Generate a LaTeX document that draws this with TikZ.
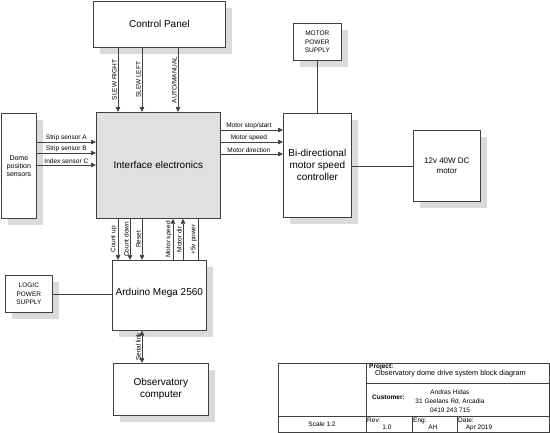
\documentclass[tikz,border=0pt]{standalone}
\usepackage{fontspec}
\setmainfont{Liberation Sans}
\usetikzlibrary{arrows.meta}
\definecolor{shadowgray}{HTML}{DADADA}
\definecolor{iegray}{HTML}{E0E0E0}
\newcommand{\boxshade}[5]{% name x y w h
  \fill[shadowgray] (#2+7,#3+7) rectangle (#2+7+#4,#3+7+#5);
}
\begin{document}
\begin{tikzpicture}[x=1pt,y=-1pt,
 line/.style={draw=black!75, line width=0.7pt},
 box/.style={line, fill=white, anchor=north west, inner sep=0pt, align=center},
 arr/.style={line, -{Triangle[length=5pt,width=4.5pt]}},
 darr/.style={line, {Triangle[length=5pt,width=4.5pt]}-{Triangle[length=5pt,width=4.5pt]}},
 hlab/.style={midway, above, font=\fontsize{6.5}{7}\selectfont, inner sep=1pt},
 vlab/.style={midway, rotate=90, anchor=south, font=\fontsize{6.5}{7}\selectfont, inner sep=1pt},
 big/.style={font=\fontsize{10}{12}\selectfont},
 small/.style={font=\fontsize{6.5}{8.4}\selectfont},
 tb/.style={font=\fontsize{6.5}{7.5}\selectfont, inner sep=0pt},
 tbb/.style={font=\fontsize{6.5}{7.5}\selectfont\bfseries, inner sep=0pt},
]
\useasboundingbox (0,0) rectangle (550,433);

% shadows
\boxshade{cp}{93}{1}{132}{46}
\boxshade{dome}{1}{113}{35}{105}
\boxshade{bd}{283}{113}{68}{104}
\boxshade{mot}{413}{130}{67}{71}
\boxshade{mps}{293}{23}{48}{37}
\boxshade{ard}{112}{260}{94}{70}
\boxshade{lps}{5}{275}{47}{37}
\boxshade{oc}{113}{363}{95}{52}

% boxes
\node[box, big, minimum width=132pt, minimum height=46pt] (cp) at (93,1) {Control Panel};
\node[box, font=\fontsize{7}{7.8}\selectfont, minimum width=35pt, minimum height=105pt] (dome) at (1,113) {Dome\\position\\sensors};
\node[box, big, fill=iegray, minimum width=124pt, minimum height=106pt] (ie) at (96,112) {Interface electronics};
\node[box, big, minimum width=68pt, minimum height=104pt] (bd) at (283,113) {Bi-directional\\motor speed\\controller};
\node[box, font=\fontsize{8}{9.5}\selectfont, minimum width=67pt, minimum height=71pt] (mot) at (413,130) {12v 40W DC\\motor};
\node[box, small, minimum width=48pt, minimum height=37pt] (mps) at (293,23) {MOTOR\\POWER\\SUPPLY};
\node[box, big, minimum width=94pt, minimum height=70pt] (ard) at (112,260) {\raisebox{7pt}{Arduino Mega 2560}};
\node[box, small, minimum width=47pt, minimum height=37pt] (lps) at (5,275) {LOGIC\\POWER\\SUPPLY};
\node[box, big, minimum width=95pt, minimum height=52pt] (oc) at (113,363) {Observatory\\computer};

% reference coordinates
\coordinate (xa) at (118,0);
\coordinate (xb) at (142,0);
\coordinate (xc) at (178,0);
\coordinate (xd) at (130,0);
\coordinate (xe) at (173,0);
\coordinate (xf) at (183,0);
\coordinate (xg) at (198,0);
\coordinate (ya) at (0,142);
\coordinate (yb) at (0,153);
\coordinate (yc) at (0,165);
\coordinate (yd) at (0,130);
\coordinate (ye) at (0,142);
\coordinate (yf) at (0,154);
\coordinate (yg) at (0,166);
\coordinate (yh) at (0,294);

% control panel -> interface
\draw[arr] (cp.south -| xa) -- node[vlab]{SLEW RIGHT} (ie.north -| xa);
\draw[arr] (cp.south -| xb) -- node[vlab]{SLEW LEFT} (ie.north -| xb);
\draw[arr] (cp.south -| xc) -- node[vlab]{AUTO/MANUAL} (ie.north -| xc);

% sensors -> interface
\draw[arr] (dome.east |- ya) -- node[hlab]{Strip sensor A} (ie.west |- ya);
\draw[arr] (dome.east |- yb) -- node[hlab]{Strip sensor B} (ie.west |- yb);
\draw[arr] (dome.east |- yc) -- node[hlab]{Index sensor C} (ie.west |- yc);

% interface -> controller
\draw[arr] (ie.east |- yd) -- node[hlab, xshift=-3pt]{Motor stop/start} (bd.west |- yd);
\draw[arr] (ie.east |- ye) -- node[hlab, xshift=-3pt]{Motor speed} (bd.west |- ye);
\draw[arr] (ie.east |- yf) -- node[hlab, xshift=-3pt]{Motor direction} (bd.west |- yf);

% controller -- motor, power
\draw[line] (bd.east |- yg) -- (mot.west |- yg);
\draw[line] (mps.south) -- (bd.north);

% interface <-> arduino
\draw[arr] (ie.south -| xa) -- node[vlab]{Count up} (ard.north -| xa);
\draw[arr] (ie.south -| xd) -- node[vlab]{Count down} (ard.north -| xd);
\draw[arr] (ie.south -| xb) -- node[vlab]{Reset} (ard.north -| xb);
\draw[arr] (ard.north -| xe) -- node[vlab]{Motor speed} (ie.south -| xe);
\draw[arr] (ard.north -| xf) -- node[vlab]{Motor dir} (ie.south -| xf);
\draw[line] (ie.south -| xg) -- node[vlab]{+5v power} (ard.north -| xg);

% logic power, serial
\draw[line] (lps.east |- yh) -- (ard.west |- yh);
\draw[darr] (ard.south -| xb) -- node[vlab]{Serial link} (oc.north -| xb);

% title block
\draw[line] (278,363) rectangle (549,432);
\draw[line] (366,363) -- (366,432);
\draw[line] (366,383) -- (549,383);
\draw[line] (278,416) -- (549,416);
\draw[line] (412,416) -- (412,432);
\draw[line] (457,416) -- (457,432);

\node[tbb, anchor=north west] (tproj) at (369,364) {Project:};
\node[font=\fontsize{7.3}{8}\selectfont, inner sep=0pt, anchor=west] (tdesc) at (375,373.5) {Observatory dome drive system block diagram};
\node[tbb, anchor=west] (tcust) at (372,397) {Customer:};
\node[tb] (tname) at (450,392.5) {Andras Hidas};
\node[tb] (taddr) at (450,401.5) {31 Geelans Rd, Arcadia};
\node[tb] (tphone) at (450,410.5) {0419 243 715};
\node[tb] (tscale) at (322,424) {Scale 1:2};
\node[tb, anchor=north west] (trev) at (367,417.5) {Rev:};
\node[tb] (trevv) at (387,427.5) {1.0};
\node[tb, anchor=north west] (teng) at (413,417.5) {Eng:};
\node[tb] (tengv) at (433,427.5) {AH};
\node[tb, anchor=north west] (tdate) at (458,417.5) {Date:};
\node[tb] (tdatev) at (479,427.5) {Apr 2019};
\end{tikzpicture}
\end{document}
